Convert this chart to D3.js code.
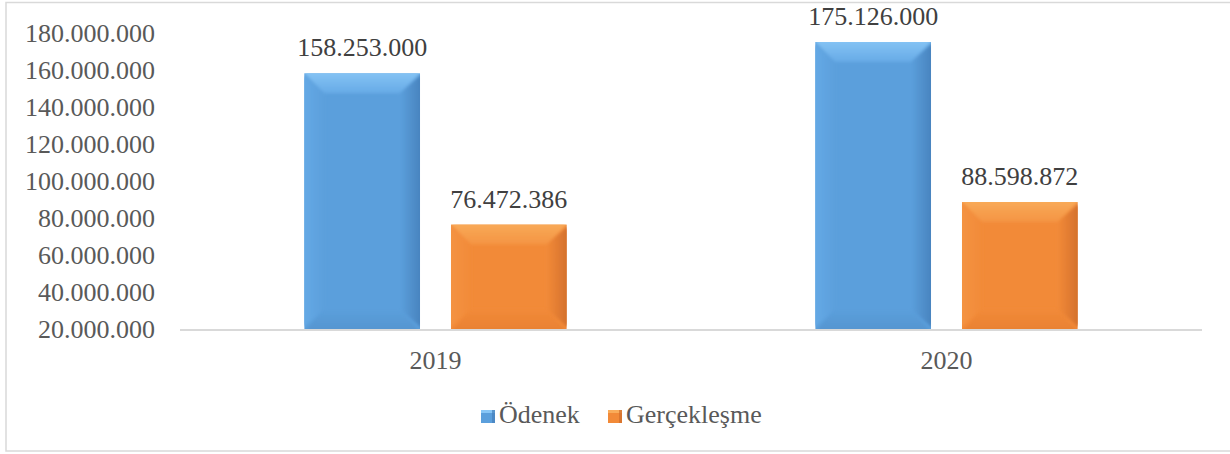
<!DOCTYPE html>
<html>
<head>
<meta charset="utf-8">
<script src="https://cdn.jsdelivr.net/npm/d3@7"></script>
<style>
  html, body { margin: 0; padding: 0; background: #ffffff; }
  svg { display: block; }
  text { font-family: "Liberation Serif", "Times New Roman", serif; }
</style>
</head>
<body>
<svg id="chart" width="1230" height="454"></svg>
<script>
const categories = ["2019", "2020"];
const seriesNames = ["Ödenek", "Gerçekleşme"];
const odenek = [158253000, 175126000];
const gerceklesme = [76472386, 88598872];
const yTicks = [20000000, 40000000, 60000000, 80000000, 100000000, 120000000, 140000000, 160000000, 180000000];

const seriesValues = [odenek, gerceklesme];
const colors = {
  "Ödenek": { base: "#5b9fdc", light: "#88c6f6", mid: "#66aae6", dark: "#4680bb", bottom: "#5594cf" },
  "Gerçekleşme": { base: "#f28a38", light: "#f9ac5a", mid: "#f49443", dark: "#d06e2c", bottom: "#e88032" }
};

const locale = d3.formatLocale({ decimal: ",", thousands: ".", grouping: [3], currency: ["", ""] });
const fmt = locale.format(",d");

const svg = d3.select("#chart");
const plot = { left: 180, right: 1202, top: 33, bottom: 329 };

// outer frame
svg.append("rect")
  .attr("x", 6).attr("y", 2.5).attr("width", 1240).attr("height", 448.5)
  .attr("fill", "none").attr("stroke", "#d9d9d9").attr("stroke-width", 1.5);

const y = d3.scaleLinear().domain([20000000, 180000000]).range([plot.bottom, plot.top]);
const x0 = d3.scaleBand().domain(categories).range([plot.left, plot.right]).padding(0);
const x1 = d3.scaleBand().domain(seriesNames).range([0, x0.bandwidth()])
  .paddingInner(0.211).paddingOuter(0.847);

// gradients and filter
const defs = svg.append("defs");
defs.append("filter").attr("id", "soft").attr("x", "-10%").attr("y", "-10%").attr("width", "120%").attr("height", "120%")
  .append("feGaussianBlur").attr("stdDeviation", 1.6);
seriesNames.forEach((s, i) => {
  const c = colors[s];
  const gTop = defs.append("linearGradient").attr("id", "top" + i)
    .attr("x1", 0).attr("y1", 0).attr("x2", 0).attr("y2", 1);
  gTop.append("stop").attr("offset", "0%").attr("stop-color", c.light);
  gTop.append("stop").attr("offset", "100%").attr("stop-color", c.mid);
  const gRight = defs.append("linearGradient").attr("id", "right" + i)
    .attr("x1", 0).attr("y1", 0).attr("x2", 1).attr("y2", 0);
  gRight.append("stop").attr("offset", "0%").attr("stop-color", c.base);
  gRight.append("stop").attr("offset", "100%").attr("stop-color", c.dark);
  const gLeft = defs.append("linearGradient").attr("id", "left" + i)
    .attr("x1", 0).attr("y1", 0).attr("x2", 1).attr("y2", 0);
  gLeft.append("stop").attr("offset", "0%").attr("stop-color", c.mid);
  gLeft.append("stop").attr("offset", "100%").attr("stop-color", c.base);
  const gBot = defs.append("linearGradient").attr("id", "bot" + i)
    .attr("x1", 0).attr("y1", 0).attr("x2", 0).attr("y2", 1);
  gBot.append("stop").attr("offset", "0%").attr("stop-color", c.base);
  gBot.append("stop").attr("offset", "100%").attr("stop-color", c.bottom);
});

// y axis labels
const yAxis = d3.axisLeft(y).tickValues(yTicks).tickSize(0).tickPadding(25).tickFormat(fmt);
const yG = svg.append("g").attr("transform", `translate(${plot.left},0)`).call(yAxis);
yG.select(".domain").remove();
yG.selectAll("text")
  .attr("font-size", 26).attr("fill", "#595959").attr("dy", "0.33em");

// bars
const bevel = 20;
const groups = svg.append("g").selectAll("g").data(categories).join("g")
  .attr("transform", d => `translate(${x0(d)},0)`);

categories.forEach((cat, ci) => {
  const g = d3.select(groups.nodes()[ci]);
  seriesNames.forEach((s, si) => {
    const v = seriesValues[si][ci];
    const bx = x1(s), bw = x1.bandwidth();
    const top = y(v), bot = y(20000000);
    const bh = bot - top;
    const b = Math.min(bevel, bh / 3);
    const clipId = `clip${ci}_${si}`;
    g.append("clipPath").attr("id", clipId)
      .append("rect").attr("x", bx).attr("y", top).attr("width", bw).attr("height", bh);
    const bar = g.append("g").attr("clip-path", `url(#${clipId})`);
    bar.append("rect").attr("x", bx).attr("y", top).attr("width", bw).attr("height", bh)
      .attr("fill", colors[s].base);
    const L = bx, R = bx + bw, T = top, B = bot;
    const bev = bar.append("g").attr("filter", "url(#soft)");
    // top
    bev.append("polygon").attr("points", `${L - 3},${T - 3} ${R + 3},${T - 3} ${R - b},${T + b} ${L + b},${T + b}`)
      .attr("fill", `url(#top${si})`);
    // left
    bev.append("polygon").attr("points", `${L - 3},${T} ${L + b},${T + b} ${L + b},${B - b} ${L - 3},${B}`)
      .attr("fill", `url(#left${si})`);
    // right
    bev.append("polygon").attr("points", `${R + 3},${T} ${R + 3},${B} ${R - b},${B - b} ${R - b},${T + b}`)
      .attr("fill", `url(#right${si})`);
    // bottom
    bev.append("polygon").attr("points", `${L},${B + 3} ${L + b},${B - b} ${R - b},${B - b} ${R},${B + 3}`)
      .attr("fill", `url(#bot${si})`);
    // value label
    g.append("text")
      .attr("x", bx + bw / 2).attr("y", top - 17)
      .attr("text-anchor", "middle").attr("font-size", 26).attr("fill", "#404040")
      .text(fmt(v));
  });
});

// x axis baseline
svg.append("line")
  .attr("x1", plot.left).attr("x2", plot.right)
  .attr("y1", y(20000000) + 1).attr("y2", y(20000000) + 1)
  .attr("stroke", "#d9d9d9").attr("stroke-width", 2);

// x axis labels
const xAxis = d3.axisBottom(x0).tickSize(0).tickPadding(22);
const xG = svg.append("g").attr("transform", `translate(0,${plot.bottom})`).call(xAxis);
xG.select(".domain").remove();
xG.selectAll("text")
  .attr("font-size", 26).attr("fill", "#595959");

// legend
const legendItems = [
  { name: seriesNames[0], x: 481 },
  { name: seriesNames[1], x: 608 }
];
const lg = svg.append("g");
legendItems.forEach((it) => {
  const c = colors[it.name];
  lg.append("rect").attr("x", it.x).attr("y", 410).attr("width", 14).attr("height", 13)
    .attr("fill", c.base);
  lg.append("rect").attr("x", it.x).attr("y", 410).attr("width", 14).attr("height", 3)
    .attr("fill", c.light);
  lg.append("rect").attr("x", it.x + 11).attr("y", 410).attr("width", 3).attr("height", 13)
    .attr("fill", c.dark).attr("opacity", 0.7);
  lg.append("text").attr("x", it.x + 18).attr("y", 423)
    .attr("font-size", 26).attr("fill", "#595959").text(it.name);
});
</script>
</body>
</html>
